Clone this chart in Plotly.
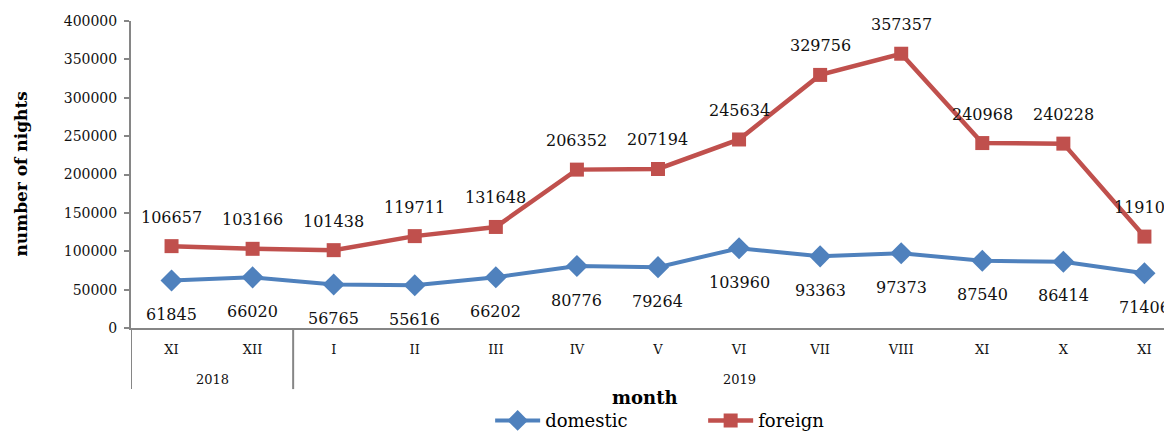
import plotly.graph_objects as go

months = ["XI", "XII", "I", "II", "III", "IV", "V", "VI", "VII", "VIII", "XI", "X", "XI"]
years = ["2018", "2018", "2019", "2019", "2019", "2019", "2019", "2019", "2019", "2019", "2019", "2019", "2019"]
domestic = [61845, 66020, 56765, 55616, 66202, 80776, 79264, 103960, 93363, 97373, 87540, 86414, 71406]
foreign = [106657, 103166, 101438, 119711, 131648, 206352, 207194, 245634, 329756, 357357, 240968, 240228, 119107]
y_ticks = [0, 50000, 100000, 150000, 200000, 250000, 300000, 350000, 400000]

FONT = "DejaVu Serif"
BLUE = "#4F81BD"
RED = "#C0504D"
GRAY = "#868686"

x = list(range(len(months)))

fig = go.Figure()
fig.add_trace(go.Scatter(
    x=x, y=domestic, name="domestic", mode="lines+markers",
    line=dict(color=BLUE, width=4),
    marker=dict(symbol="diamond", size=17, color=BLUE),
    cliponaxis=False,
))
fig.add_trace(go.Scatter(
    x=x, y=foreign, name="foreign", mode="lines+markers",
    line=dict(color=RED, width=4.5),
    marker=dict(symbol="square", size=14, color=RED),
    cliponaxis=False,
))

annotations = []
for xi, v in zip(x, domestic):
    annotations.append(dict(x=xi, y=v, xref="x", yref="y", text=str(v), showarrow=False,
                            yshift=-34, font=dict(family=FONT, size=16, color="#111")))
for xi, v in zip(x, foreign):
    annotations.append(dict(x=xi, y=v, xref="x", yref="y", text=str(v), showarrow=False,
                            yshift=29, font=dict(family=FONT, size=16, color="#111")))

# year group labels and dividers
groups = []
for i, yr in enumerate(years):
    if not groups or groups[-1][0] != yr:
        groups.append([yr, i, i])
    else:
        groups[-1][2] = i
shapes = []
for yr, a, b in groups:
    annotations.append(dict(x=(a + b) / 2, y=-0.169, xref="x", yref="paper", text=yr, showarrow=False,
                            yanchor="middle", font=dict(family=FONT, size=13, color="#111")))
    shapes.append(dict(type="line", xref="x", yref="paper", x0=a - 0.5, x1=a - 0.5, y0=0, y1=-0.199,
                       line=dict(color=GRAY, width=2)))

annotations.append(dict(x=-0.1066, y=0.5, xref="paper", yref="paper", text="<b>number of nights</b>",
                        textangle=-90, showarrow=False, xanchor="center", yanchor="middle",
                        font=dict(family=FONT, size=17, color="#000")))
annotations.append(dict(x=0.4938, y=-0.228, xref="paper", yref="paper", text="<b>month</b>",
                        showarrow=False, xanchor="center", yanchor="middle",
                        font=dict(family=FONT, size=18, color="#000")))

# page body has an 8px margin: figure occupies 1164x424 starting at (8, 8)
fig.update_layout(
    width=1164, height=424,
    margin=dict(l=123, r=0, t=13, b=104, autoexpand=False),
    paper_bgcolor="white", plot_bgcolor="white",
    font=dict(family=FONT, color="#111"),
    showlegend=True,
    legend=dict(orientation="h", x=0.345, xanchor="left", y=-0.302, yanchor="middle",
                font=dict(family=FONT, size=18, color="#000"), itemwidth=45,
                entrywidth=153, entrywidthmode="pixels",
                bgcolor="rgba(0,0,0,0)"),
    annotations=annotations,
    shapes=shapes,
    xaxis=dict(range=[-0.5, 12.34], tickmode="array", tickvals=x, ticktext=months,
               showgrid=False, zeroline=False, showline=True, linecolor=GRAY, linewidth=2,
               ticks="", tickfont=dict(family=FONT, size=13, color="#111"), ticklabelstandoff=8,
               automargin=False),
    yaxis=dict(range=[0, 400000], tickmode="array", tickvals=y_ticks, ticktext=[str(t) for t in y_ticks],
               showgrid=False, zeroline=False, showline=True, linecolor=GRAY, linewidth=2,
               ticks="outside", ticklen=5, tickcolor=GRAY, tickwidth=1.5, ticklabelstandoff=4,
               tickfont=dict(family=FONT, size=14, color="#111"), automargin=False),
)

fig.write_html("out.html")
